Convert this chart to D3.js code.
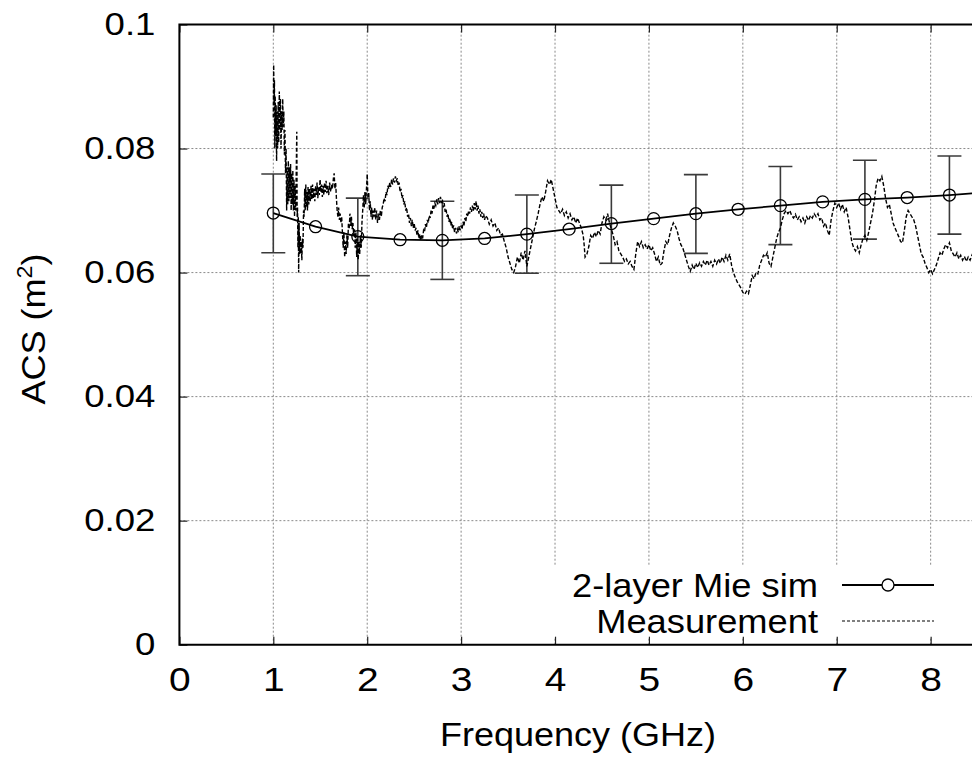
<!DOCTYPE html>
<html>
<head>
<meta charset="utf-8">
<script src="https://cdn.jsdelivr.net/npm/d3@7"></script>
<style>
  body { margin: 0; background: #fff; }
  svg { display: block; font-family: "Liberation Sans", Arial, Helvetica, sans-serif; }
</style>
</head>
<body>
<div id="chart"></div>
<script>
// axis ticks
const xTicks = [0, 1, 2, 3, 4, 5, 6, 7, 8];
const yTicks = [0, 0.02, 0.04, 0.06, 0.08, 0.1];

// 2-layer Mie simulation (markers every 0.45 GHz, last one lies past the frame)
const simFreq = [1.0, 1.45, 1.9, 2.35, 2.8, 3.25, 3.7, 4.15, 4.6, 5.05, 5.5, 5.95, 6.4, 6.85, 7.3, 7.75, 8.2, 8.65];
const simAcs = [0.0696, 0.0674, 0.0658, 0.0653, 0.0652, 0.0655, 0.0662, 0.0670, 0.0679, 0.0687, 0.0695, 0.0702, 0.0708, 0.0714, 0.0718, 0.0721, 0.0725, 0.0730];

// error bars on every second simulation point
const errFreq = [1.0, 1.9, 2.8, 3.7, 4.6, 5.5, 6.4, 7.3, 8.2];
const errLow = [0.0632, 0.0595, 0.0589, 0.0599, 0.0615, 0.0631, 0.0645, 0.0654, 0.0662];
const errHigh = [0.0759, 0.0720, 0.0715, 0.0725, 0.0741, 0.0758, 0.0771, 0.0781, 0.0788];

// measurement trace [GHz, m^2]
const measurement = [
  [1.000,0.0850],[1.004,0.0935],[1.008,0.0870],[1.012,0.0910],[1.016,0.0800],[1.020,0.0885],[1.025,0.0820],[1.030,0.0870],
  [1.035,0.0780],[1.040,0.0860],[1.046,0.0800],[1.052,0.0875],[1.058,0.0810],[1.064,0.0892],[1.070,0.0830],[1.076,0.0880],
  [1.082,0.0800],[1.088,0.0860],[1.094,0.0830],[1.100,0.0880],[1.106,0.0835],[1.112,0.0860],[1.118,0.0790],[1.124,0.0830],
  [1.130,0.0760],[1.136,0.0800],[1.142,0.0700],[1.148,0.0770],[1.154,0.0710],[1.160,0.0780],[1.166,0.0715],[1.172,0.0770],
  [1.178,0.0720],[1.184,0.0775],[1.190,0.0700],[1.196,0.0760],[1.202,0.0710],[1.208,0.0765],[1.214,0.0700],[1.220,0.0750],
  [1.226,0.0690],[1.232,0.0740],[1.238,0.0700],[1.244,0.0760],[1.250,0.0827],[1.254,0.0690],[1.258,0.0705],[1.262,0.0640],
  [1.266,0.0690],[1.270,0.0600],[1.275,0.0680],[1.280,0.0630],[1.286,0.0660],[1.292,0.0630],[1.298,0.0650],[1.304,0.0620],
  [1.310,0.0655],[1.316,0.0640],[1.322,0.0700],[1.328,0.0690],[1.334,0.0735],[1.340,0.0700],[1.346,0.0742],[1.352,0.0705],
  [1.358,0.0730],[1.364,0.0700],[1.370,0.0738],[1.378,0.0710],[1.386,0.0735],[1.394,0.0715],[1.402,0.0740],[1.410,0.0718],
  [1.418,0.0742],[1.426,0.0720],[1.434,0.0735],[1.442,0.0715],[1.450,0.0740],[1.458,0.0725],[1.466,0.0745],[1.474,0.0720],
  [1.482,0.0738],[1.490,0.0725],[1.498,0.0750],[1.506,0.0730],[1.514,0.0742],[1.522,0.0722],[1.530,0.0740],[1.538,0.0725],
  [1.546,0.0745],[1.554,0.0730],[1.562,0.0748],[1.570,0.0728],[1.580,0.0740],[1.590,0.0725],[1.600,0.0745],[1.610,0.0730],
  [1.620,0.0742],[1.630,0.0735],[1.640,0.0752],[1.648,0.0760],[1.656,0.0735],[1.664,0.0745],[1.672,0.0720],[1.680,0.0700],
  [1.688,0.0690],[1.696,0.0705],[1.704,0.0685],[1.712,0.0695],[1.720,0.0680],[1.728,0.0690],[1.736,0.0665],[1.744,0.0640],
  [1.752,0.0665],[1.760,0.0625],[1.768,0.0650],[1.776,0.0630],[1.784,0.0660],[1.792,0.0640],[1.800,0.0680],[1.808,0.0670],
  [1.816,0.0695],[1.824,0.0675],[1.832,0.0690],[1.840,0.0670],[1.848,0.0680],[1.856,0.0660],[1.864,0.0670],[1.872,0.0640],
  [1.880,0.0665],[1.888,0.0625],[1.896,0.0655],[1.904,0.0620],[1.912,0.0650],[1.920,0.0630],[1.928,0.0660],[1.936,0.0640],
  [1.944,0.0680],[1.952,0.0700],[1.960,0.0725],[1.968,0.0705],[1.976,0.0730],[1.984,0.0710],[1.992,0.0735],[2.000,0.0759],
  [2.008,0.0720],[2.016,0.0730],[2.024,0.0700],[2.032,0.0715],[2.040,0.0690],[2.048,0.0705],[2.056,0.0685],[2.064,0.0700],
  [2.072,0.0690],[2.080,0.0705],[2.090,0.0685],[2.100,0.0700],[2.110,0.0680],[2.120,0.0695],[2.130,0.0685],[2.140,0.0700],
  [2.150,0.0690],[2.160,0.0705],[2.170,0.0710],[2.180,0.0720],[2.190,0.0715],[2.200,0.0730],[2.210,0.0725],[2.220,0.0740],
  [2.230,0.0735],[2.240,0.0745],[2.250,0.0738],[2.260,0.0750],[2.270,0.0742],[2.280,0.0752],[2.290,0.0745],[2.300,0.0755],
  [2.310,0.0748],[2.320,0.0752],[2.330,0.0740],[2.340,0.0745],[2.350,0.0730],[2.360,0.0735],[2.370,0.0720],[2.380,0.0725],
  [2.390,0.0710],[2.400,0.0715],[2.410,0.0700],[2.420,0.0705],[2.430,0.0690],[2.440,0.0695],[2.450,0.0680],[2.460,0.0688],
  [2.470,0.0675],[2.480,0.0685],[2.490,0.0672],[2.500,0.0680],[2.510,0.0668],[2.520,0.0672],[2.530,0.0660],[2.540,0.0668],
  [2.550,0.0655],[2.560,0.0662],[2.570,0.0652],[2.580,0.0660],[2.590,0.0655],[2.600,0.0668],[2.610,0.0665],[2.620,0.0678],
  [2.630,0.0672],[2.640,0.0685],[2.650,0.0680],[2.660,0.0692],[2.670,0.0688],[2.680,0.0700],[2.690,0.0695],[2.700,0.0708],
  [2.710,0.0703],[2.720,0.0712],[2.730,0.0708],[2.740,0.0718],[2.750,0.0710],[2.760,0.0720],[2.770,0.0712],[2.780,0.0722],
  [2.790,0.0712],[2.800,0.0718],[2.810,0.0705],[2.820,0.0712],[2.830,0.0698],[2.840,0.0702],[2.850,0.0690],[2.860,0.0695],
  [2.870,0.0682],[2.880,0.0688],[2.890,0.0676],[2.900,0.0682],[2.910,0.0670],[2.920,0.0676],[2.930,0.0665],[2.940,0.0672],
  [2.950,0.0663],[2.960,0.0670],[2.970,0.0665],[2.980,0.0675],[2.990,0.0668],[3.000,0.0676],[3.010,0.0670],[3.020,0.0682],
  [3.030,0.0675],[3.040,0.0688],[3.050,0.0682],[3.060,0.0695],[3.070,0.0690],[3.080,0.0700],[3.090,0.0695],[3.100,0.0705],
  [3.110,0.0698],[3.120,0.0708],[3.130,0.0700],[3.140,0.0712],[3.150,0.0702],[3.160,0.0715],[3.170,0.0700],[3.180,0.0708],
  [3.190,0.0695],[3.200,0.0702],[3.210,0.0690],[3.220,0.0698],[3.230,0.0688],[3.240,0.0695],[3.250,0.0685],[3.260,0.0692],
  [3.280,0.0688],[3.300,0.0678],[3.320,0.0685],[3.340,0.0675],[3.360,0.0680],[3.380,0.0668],[3.400,0.0672],[3.420,0.0660],
  [3.440,0.0662],[3.460,0.0650],[3.480,0.0640],[3.500,0.0625],[3.520,0.0615],[3.540,0.0605],[3.560,0.0600],[3.580,0.0610],
  [3.600,0.0625],[3.620,0.0615],[3.640,0.0632],[3.660,0.0620],[3.680,0.0635],[3.700,0.0610],[3.720,0.0625],[3.740,0.0640],
  [3.760,0.0655],[3.780,0.0670],[3.800,0.0682],[3.820,0.0695],[3.840,0.0710],[3.860,0.0722],[3.880,0.0715],[3.900,0.0730],
  [3.920,0.0748],[3.940,0.0742],[3.960,0.0750],[3.980,0.0735],[4.000,0.0720],[4.020,0.0705],[4.040,0.0700],[4.060,0.0695],
  [4.080,0.0702],[4.100,0.0692],[4.120,0.0698],[4.140,0.0688],[4.160,0.0695],[4.180,0.0685],[4.200,0.0690],[4.220,0.0680],
  [4.240,0.0688],[4.260,0.0680],[4.280,0.0672],[4.300,0.0660],[4.310,0.0645],[4.320,0.0625],[4.340,0.0630],[4.360,0.0642],
  [4.380,0.0660],[4.400,0.0655],[4.420,0.0665],[4.440,0.0658],[4.460,0.0668],[4.480,0.0662],[4.500,0.0680],[4.520,0.0690],
  [4.540,0.0685],[4.560,0.0695],[4.580,0.0680],[4.600,0.0670],[4.620,0.0660],[4.640,0.0645],[4.660,0.0650],[4.680,0.0635],
  [4.700,0.0630],[4.720,0.0625],[4.740,0.0618],[4.760,0.0622],[4.780,0.0614],[4.800,0.0618],[4.820,0.0610],[4.840,0.0605],
  [4.860,0.0630],[4.880,0.0650],[4.900,0.0642],[4.920,0.0650],[4.940,0.0640],[4.960,0.0645],[4.980,0.0638],[5.000,0.0645],
  [5.020,0.0635],[5.040,0.0640],[5.060,0.0630],[5.080,0.0618],[5.100,0.0625],[5.120,0.0612],[5.140,0.0615],[5.160,0.0635],
  [5.180,0.0650],[5.200,0.0645],[5.220,0.0660],[5.240,0.0672],[5.260,0.0680],[5.280,0.0675],[5.300,0.0668],[5.320,0.0655],
  [5.340,0.0645],[5.360,0.0640],[5.380,0.0630],[5.400,0.0620],[5.420,0.0610],[5.440,0.0602],[5.460,0.0612],[5.480,0.0605],
  [5.500,0.0615],[5.520,0.0608],[5.540,0.0616],[5.560,0.0610],[5.580,0.0618],[5.600,0.0612],[5.620,0.0620],[5.640,0.0612],
  [5.660,0.0618],[5.680,0.0610],[5.700,0.0620],[5.720,0.0614],[5.740,0.0622],[5.760,0.0615],[5.780,0.0625],[5.800,0.0618],
  [5.820,0.0628],[5.840,0.0620],[5.860,0.0630],[5.880,0.0612],[5.900,0.0600],[5.920,0.0592],[5.940,0.0585],[5.960,0.0580],
  [5.980,0.0575],[6.000,0.0568],[6.020,0.0565],[6.040,0.0570],[6.060,0.0566],[6.080,0.0580],[6.100,0.0595],[6.120,0.0590],
  [6.140,0.0600],[6.160,0.0598],[6.180,0.0612],[6.200,0.0620],[6.220,0.0628],[6.240,0.0625],[6.260,0.0632],[6.280,0.0615],
  [6.300,0.0610],[6.320,0.0625],[6.340,0.0640],[6.360,0.0655],[6.380,0.0665],[6.400,0.0672],[6.420,0.0685],[6.440,0.0695],
  [6.460,0.0700],[6.480,0.0695],[6.500,0.0700],[6.520,0.0692],[6.540,0.0688],[6.560,0.0694],[6.580,0.0685],[6.600,0.0690],
  [6.620,0.0682],[6.640,0.0688],[6.660,0.0680],[6.680,0.0690],[6.700,0.0684],[6.720,0.0692],[6.740,0.0688],[6.760,0.0695],
  [6.780,0.0690],[6.800,0.0695],[6.820,0.0685],[6.840,0.0688],[6.860,0.0675],[6.880,0.0680],[6.900,0.0668],[6.920,0.0660],
  [6.940,0.0685],[6.960,0.0700],[6.980,0.0712],[7.000,0.0705],[7.020,0.0712],[7.040,0.0702],[7.060,0.0710],[7.080,0.0698],
  [7.100,0.0705],[7.120,0.0690],[7.140,0.0670],[7.160,0.0650],[7.180,0.0640],[7.200,0.0635],[7.220,0.0642],[7.240,0.0632],
  [7.260,0.0645],[7.280,0.0655],[7.300,0.0660],[7.320,0.0652],[7.340,0.0665],[7.360,0.0680],[7.380,0.0695],[7.400,0.0715],
  [7.420,0.0740],[7.440,0.0752],[7.460,0.0748],[7.480,0.0755],[7.500,0.0740],[7.520,0.0720],[7.540,0.0705],[7.560,0.0710],
  [7.580,0.0695],[7.600,0.0680],[7.620,0.0672],[7.640,0.0665],[7.660,0.0658],[7.680,0.0650],[7.700,0.0648],[7.720,0.0668],
  [7.740,0.0690],[7.760,0.0700],[7.780,0.0695],[7.800,0.0690],[7.820,0.0685],[7.840,0.0675],[7.860,0.0660],[7.880,0.0645],
  [7.900,0.0630],[7.920,0.0625],[7.940,0.0615],[7.960,0.0608],[7.980,0.0600],[8.000,0.0605],[8.020,0.0598],[8.040,0.0605],
  [8.060,0.0612],[8.080,0.0622],[8.100,0.0632],[8.120,0.0628],[8.140,0.0638],[8.160,0.0645],[8.180,0.0640],[8.200,0.0648],
  [8.220,0.0635],[8.240,0.0630],[8.260,0.0625],[8.280,0.0632],[8.300,0.0622],[8.320,0.0628],[8.340,0.0620],[8.360,0.0626],
  [8.380,0.0618],[8.400,0.0625],[8.420,0.0620],[8.440,0.0628],[8.460,0.0622],[8.480,0.0640],[8.500,0.0658]
];

const width = 972, height = 758;
const tickScale = 1.18;   // tick digits are drawn wider than plain Arial
const titleScale = 1.06;
const legendScale = 1.1;

const svg = d3.select("#chart").append("svg")
  .attr("width", width)
  .attr("height", height);

const x = d3.scaleLinear().domain([0, 8.5]).range([179.4, 977.6]);
const y = d3.scaleLinear().domain([0, 0.1]).range([644.7, 24.5]);

svg.append("defs").append("clipPath").attr("id", "plotclip")
  .append("rect")
  .attr("x", x(0)).attr("y", y(0.1))
  .attr("width", x(8.5) - x(0)).attr("height", y(0) - y(0.1));

// grid
const grid = svg.append("g")
  .attr("stroke", "#8a8a8a")
  .attr("stroke-width", 1)
  .attr("stroke-dasharray", "2,2");
grid.selectAll(".gx").data(xTicks.filter(d => d > 0))
  .enter().append("line")
  .attr("x1", d => x(d)).attr("x2", d => x(d))
  .attr("y1", y(0)).attr("y2", y(0.1));
grid.selectAll(".gy").data(yTicks.filter(d => d > 0 && d < 0.1))
  .enter().append("line")
  .attr("x1", x(0)).attr("x2", x(8.5))
  .attr("y1", d => y(d)).attr("y2", d => y(d));

// legend box hides the grid behind it
svg.append("rect")
  .attr("x", 528).attr("y", 566)
  .attr("width", 460).attr("height", 72)
  .attr("fill", "#fff");

const plot = svg.append("g").attr("clip-path", "url(#plotclip)");

// error bars
const errData = errFreq.map((f, i) => ({ f: f, lo: errLow[i], hi: errHigh[i] }));
const eb = plot.append("g").attr("stroke", "#3a3a3a").attr("stroke-width", 1.6);
eb.selectAll(".v").data(errData).enter().append("line")
  .attr("x1", d => x(d.f)).attr("x2", d => x(d.f))
  .attr("y1", d => y(d.lo)).attr("y2", d => y(d.hi));
eb.selectAll(".lo").data(errData).enter().append("line")
  .attr("x1", d => x(d.f) - 12).attr("x2", d => x(d.f) + 12)
  .attr("y1", d => y(d.lo)).attr("y2", d => y(d.lo));
eb.selectAll(".hi").data(errData).enter().append("line")
  .attr("x1", d => x(d.f) - 12).attr("x2", d => x(d.f) + 12)
  .attr("y1", d => y(d.hi)).attr("y2", d => y(d.hi));

// simulation line + open circles
const simData = simFreq.map((f, i) => [f, simAcs[i]]);
const line = d3.line().x(d => x(d[0])).y(d => y(d[1]));
plot.append("path")
  .datum(simData)
  .attr("d", line)
  .attr("fill", "none")
  .attr("stroke", "#000")
  .attr("stroke-width", 1.8);
plot.append("g").selectAll("circle").data(simData).enter().append("circle")
  .attr("cx", d => x(d[0]))
  .attr("cy", d => y(d[1]))
  .attr("r", 6)
  .attr("fill", "none")
  .attr("stroke", "#000")
  .attr("stroke-width", 1.3);

// measurement
plot.append("path")
  .datum(measurement)
  .attr("d", line)
  .attr("fill", "none")
  .attr("stroke", "#000")
  .attr("stroke-width", 1.4)
  .attr("stroke-dasharray", "4,2");

// axes (inward ticks, mirrored on top)
const gx = svg.append("g")
  .attr("transform", `translate(0,${y(0)})`)
  .call(d3.axisBottom(x).tickValues(xTicks).tickSize(-8).tickPadding(23).tickFormat(d3.format("d")));
gx.select(".domain").remove();
gx.selectAll("line").attr("stroke", "#222").attr("stroke-width", 1.2);
gx.selectAll("text")
  .attr("font-size", 33)
  .attr("fill", "#000")
  .attr("font-family", "Liberation Sans, Arial, sans-serif")
  .attr("transform", `scale(${tickScale},1)`);

svg.append("g")
  .attr("transform", `translate(0,${y(0.1)})`)
  .call(d3.axisTop(x).tickValues(xTicks).tickSize(-8).tickFormat(""))
  .call(g => g.select(".domain").remove())
  .selectAll("line").attr("stroke", "#222").attr("stroke-width", 1.2);

const gy = svg.append("g")
  .attr("transform", `translate(${x(0)},0)`)
  .call(d3.axisLeft(y).tickValues(yTicks).tickSize(-8).tickPadding(24)
    .tickFormat(d => d === 0 ? "0" : String(+d.toFixed(2))));
gy.select(".domain").remove();
gy.selectAll("line").attr("stroke", "#222").attr("stroke-width", 1.2);
gy.selectAll("text")
  .attr("font-size", 31)
  .attr("fill", "#000")
  .attr("font-family", "Liberation Sans, Arial, sans-serif")
  .attr("x", -24 / tickScale)
  .attr("transform", `scale(${tickScale},1)`);

// frame: left, bottom, top (right edge falls outside the picture)
svg.append("path")
  .attr("d", `M${x(8.5)},${y(0.1)}H${x(0)}V${y(0)}H${x(8.5)}`)
  .attr("fill", "none")
  .attr("stroke", "#000")
  .attr("stroke-width", 2);

// axis titles
svg.append("text")
  .attr("transform", `translate(578,746) scale(${titleScale},1)`)
  .attr("text-anchor", "middle")
  .attr("font-size", 34)
  .text("Frequency (GHz)");

const yt = svg.append("text")
  .attr("transform", `translate(45,329) rotate(-90) scale(${titleScale},1)`)
  .attr("text-anchor", "middle")
  .attr("font-size", 34);
yt.append("tspan").text("ACS (m");
yt.append("tspan").attr("font-size", 22).attr("baseline-shift", "super").text("2");
yt.append("tspan").text(")");

// legend
const legend = svg.append("g");
const legRows = [
  { label: "2-layer Mie sim", y: 585, dash: null, marker: true },
  { label: "Measurement", y: 621, dash: "3,2", marker: false }
];
legRows.forEach(r => {
  legend.append("text")
    .attr("transform", `translate(818,${r.y + 12}) scale(${legendScale},1)`)
    .attr("text-anchor", "end")
    .attr("font-size", 33)
    .text(r.label);
  legend.append("line")
    .attr("x1", 842).attr("x2", 934)
    .attr("y1", r.y).attr("y2", r.y)
    .attr("stroke", "#000")
    .attr("stroke-width", r.marker ? 1.8 : 1.2)
    .attr("stroke-dasharray", r.dash);
  if (r.marker) {
    legend.append("circle")
      .attr("cx", 888).attr("cy", r.y).attr("r", 6)
      .attr("fill", "#fff").attr("stroke", "#000").attr("stroke-width", 1.3);
  }
});
</script>
</body>
</html>
